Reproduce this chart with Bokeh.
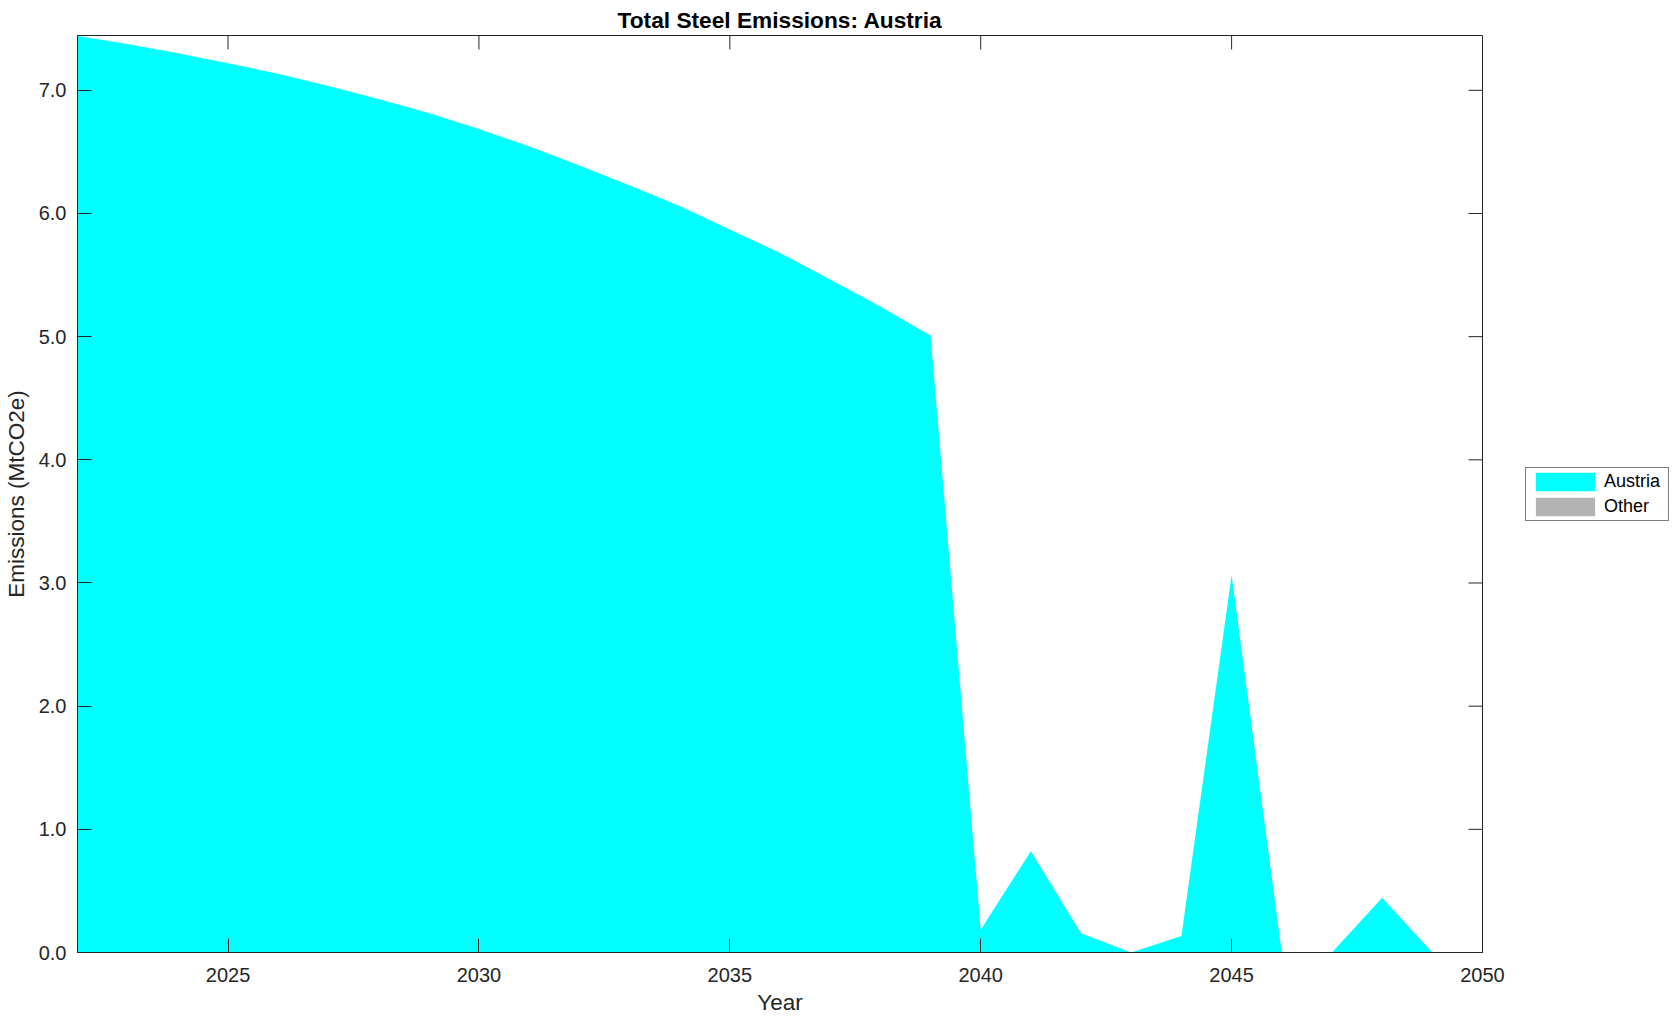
import math
from bokeh.plotting import figure
from bokeh.models import (Range1d, Legend, LegendItem, ColumnDataSource,
                          FixedTicker, PrintfTickFormatter)
from bokeh.embed import file_html
from bokeh.resources import INLINE

# ---- data ----
years = [2022, 2023, 2024, 2025, 2026, 2027, 2028, 2029, 2030, 2031,
         2032, 2033, 2034, 2035, 2036, 2037, 2038, 2039, 2040, 2041,
         2042, 2043, 2044, 2045, 2046, 2047, 2048, 2049]
austria = [7.44, 7.375, 7.30, 7.22, 7.135, 7.035, 6.93, 6.815, 6.685, 6.545,
           6.39, 6.23, 6.06, 5.87, 5.68, 5.465, 5.245, 5.01, 0.184, 0.823,
           0.157, 0.0, 0.133, 3.065, 0.0, 0.0, 0.444, 0.0]
other = [0.0, 0.0, 0.0, 0.0, 0.0, 0.0, 0.0, 0.0, 0.0, 0.0,
         0.0, 0.0, 0.0, 0.0, 0.0, 0.0, 0.0, 0.0, 0.0, 0.0,
         0.0, 0.0, 0.0, 0.0, 0.0, 0.0, 0.0, 0.0]
x_ticks = [2025, 2030, 2035, 2040, 2045, 2050]
y_ticks = [0, 1, 2, 3, 4, 5, 6, 7]
series_names = ["Austria", "Other"]
series_colors = ["#00ffff", "#b3b3b3"]
title_text = "Total Steel Emissions: Austria"
x_label = "Year"
y_label = "Emissions (MtCO2e)"

X0, X1 = 2022, 2050
Y0, Y1 = 0, 7.445

zeros = [0.0 for _ in years]
stack_top = [a + o for a, o in zip(austria, other)]
src = ColumnDataSource(dict(year=years, zero=zeros, austria=austria, top=stack_top))

FONT = "Liberation Sans"
AX = "#262626"

p = figure(frame_width=1405, frame_height=917, output_backend="svg", toolbar_location=None,
           x_range=Range1d(X0, X1), y_range=Range1d(Y0, Y1),
           min_border_left=77, min_border_right=190, min_border_top=35, min_border_bottom=68,
           title=title_text)

p.title.text_font = FONT
p.title.text_font_size = "22.7px"
p.title.text_font_style = "bold"
p.title.text_color = "black"
p.title.align = "center"
p.title.standoff = 5
p.title.offset = 0

r1 = p.varea(x="year", y1="zero", y2="austria", source=src, fill_color=series_colors[0])
r2 = p.varea(x="year", y1="austria", y2="top", source=src, fill_color=series_colors[1])

p.xgrid.visible = False
p.ygrid.visible = False
p.outline_line_color = AX
p.outline_line_width = 1
p.background_fill_color = "white"
p.border_fill_color = "white"

def style_axis(ax):
    ax.axis_line_color = AX
    ax.axis_line_width = 1
    ax.major_tick_line_color = AX
    ax.major_tick_line_width = 1
    ax.major_tick_in = 14
    ax.major_tick_out = 0
    ax.minor_tick_line_color = None
    ax.major_label_text_font = FONT
    ax.major_label_text_font_size = "20px"
    ax.major_label_text_color = AX
    ax.axis_label_text_font = FONT
    ax.axis_label_text_font_size = "22.5px"
    ax.axis_label_text_font_style = "normal"
    ax.axis_label_text_color = AX

xa = p.xaxis[0]
ya = p.yaxis[0]
xa.ticker = FixedTicker(ticks=x_ticks)
ya.ticker = FixedTicker(ticks=y_ticks)
ya.formatter = PrintfTickFormatter(format="%.1f")
style_axis(xa)
style_axis(ya)
xa.axis_label = x_label
ya.axis_label = y_label
xa.major_label_standoff = 15
ya.major_label_standoff = 11
xa.axis_label_standoff = 5
ya.axis_label_standoff = 7

# box ticks on the right and top edges (inward, 14 px), no labels
p.ray(x=[X1] * len(y_ticks), y=y_ticks, length=14, length_units="screen",
      angle=math.pi, line_color=AX, line_width=1)
p.ray(x=x_ticks, y=[Y1] * len(x_ticks), length=14, length_units="screen",
      angle=-math.pi / 2, line_color=AX, line_width=1)

legend = Legend(items=[LegendItem(label=series_names[0], renderers=[r1]),
                       LegendItem(label=series_names[1], renderers=[r2])],
                location=(43, 431))
legend.border_line_color = "black"
legend.border_line_width = 1
legend.background_fill_color = "white"
legend.background_fill_alpha = 1
legend.label_text_font = FONT
legend.label_text_font_size = "18px"
legend.label_text_color = "black"
legend.glyph_width = 74
legend.glyph_height = 23
legend.label_height = 23
legend.label_width = 62
legend.label_standoff = 2
legend.padding = 2
legend.spacing = 2
legend.margin = 0
p.add_layout(legend, "right")

open("out.html", "w").write(file_html(p, INLINE))
